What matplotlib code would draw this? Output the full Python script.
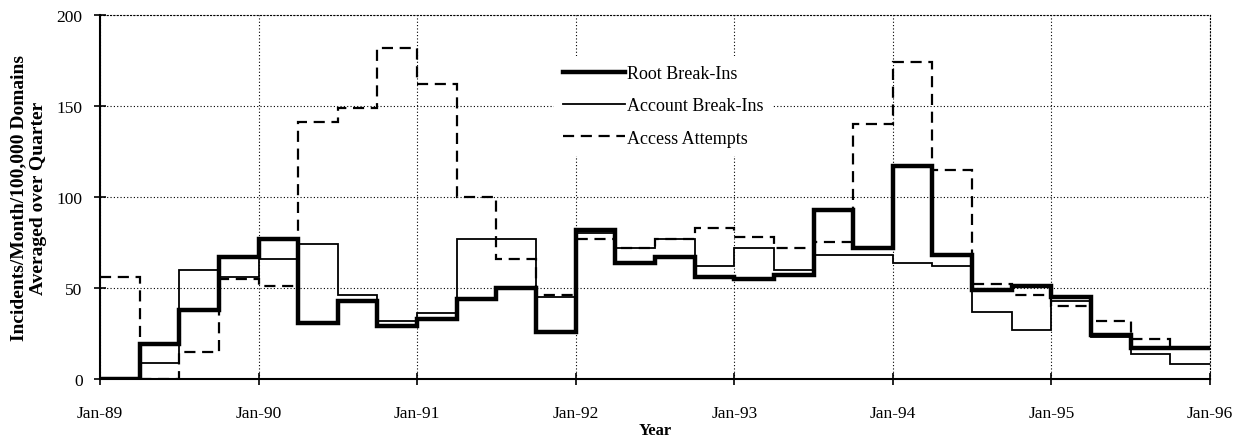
import matplotlib
matplotlib.use("Agg")
import matplotlib.pyplot as plt
import numpy as np

# quarterly values, Jan-89 .. Oct-95 (28 quarters)
root_break_ins = [0, 19, 38, 67, 77, 31, 43, 29, 33, 44, 50, 26,
                  82, 64, 67, 56, 55, 57, 93, 72, 117, 68, 49, 51,
                  45, 24, 17, 17]
account_break_ins = [0, 9, 60, 56, 66, 74, 46, 32, 36, 77, 77, 45,
                     80, 72, 77, 62, 72, 60, 68, 68, 64, 62, 37, 27,
                     43, 23, 14, 8]
access_attempts = [56, 0, 15, 55, 51, 141, 149, 182, 162, 100, 66, 46,
                   77, 72, 77, 83, 78, 72, 75, 140, 174, 115, 52, 46,
                   40, 32, 22, 17]
year_labels = ["Jan-89", "Jan-90", "Jan-91", "Jan-92", "Jan-93",
               "Jan-94", "Jan-95", "Jan-96"]

plt.rcParams['font.family'] = ['Liberation Serif', 'DejaVu Serif']

edges = 1989 + 0.25 * np.arange(len(root_break_ins) + 1)

fig = plt.figure(figsize=(12.42, 4.39), dpi=100)
ax = fig.add_axes([0.0805, 0.1344, 0.8937, 0.8292])

ax.stairs(root_break_ins, edges, baseline=None, color='black',
          linewidth=3.2, label='Root Break-Ins', zorder=4)
ax.stairs(account_break_ins, edges, baseline=None, color='black',
          linewidth=1.3, label='Account Break-Ins', zorder=3)
ax.stairs(access_attempts, edges, baseline=None, color='black',
          linewidth=1.6, linestyle=(0, (5, 3)), label='Access Attempts',
          zorder=3)

ax.set_xlim(1989, 1996)
ax.set_ylim(0, 200)
ax.set_xticks(np.arange(1989, 1997))
ax.set_xticklabels(year_labels)
ax.set_yticks([0, 50, 100, 150, 200])

ax.grid(True, color='black', linestyle=(0, (1, 2)), linewidth=0.8)
ax.set_axisbelow(True)
for side in ['top', 'right']:
    ax.spines[side].set_linestyle((0, (1, 2)))
    ax.spines[side].set_linewidth(0.8)
for side in ['left', 'bottom']:
    ax.spines[side].set_linewidth(1.5)

ax.tick_params(axis='both', direction='inout', length=9, width=1.2)
ax.tick_params(axis='x', pad=14, labelsize=12.5)
ax.tick_params(axis='y', pad=8, labelsize=12.5)

ax.set_xlabel('Year', fontsize=12, fontweight='bold', labelpad=1)
ax.set_ylabel('Incidents/Month/100,000 Domains\nAveraged over Quarter',
              fontsize=14, fontweight='bold', labelpad=7)

leg = ax.legend(loc='upper left', bbox_to_anchor=(0.401, 0.912),
                frameon=True, fontsize=13, handlelength=3.45,
                handletextpad=0.1, labelspacing=0.85, borderpad=0.5)
leg.get_frame().set_facecolor('white')
leg.get_frame().set_edgecolor('none')
leg.get_frame().set_alpha(1)

fig.savefig('out.png', dpi=100)
